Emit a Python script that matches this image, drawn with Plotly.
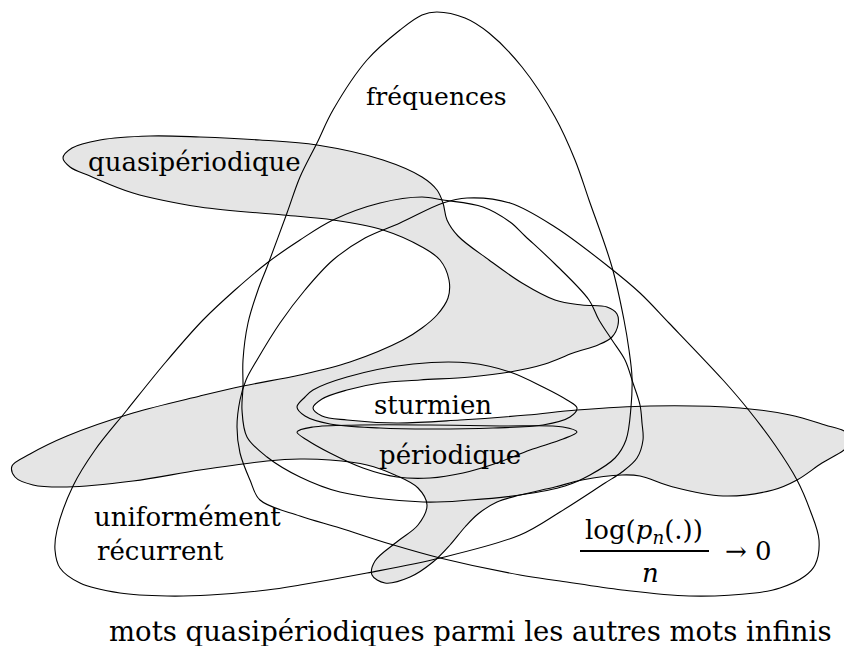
import plotly.graph_objects as go

# ---------------- outline data (pixel units, y grows downward) ----------------
# quasipériodique region (grey)
QP_X = [63, 72, 100, 150, 200, 260, 317, 383, 422, 437, 443, 447, 458, 489, 522, 555, 582, 607, 617, 618,
        612, 598, 573, 545, 510, 470, 420, 380, 347, 322, 313, 322, 347, 397, 460, 527, 577, 650, 740, 790,
        825, 846, 852, 844, 822, 797, 773, 723, 673, 640, 622, 582, 555, 520, 497, 478, 465, 450, 433, 410,
        385, 372, 375, 398, 418, 427, 418, 395, 367, 330, 300, 267, 200, 133, 67, 33, 15, 12, 30, 67,
        133, 200, 243, 300, 350, 403, 422, 437, 448, 449, 440, 422, 383, 333, 283, 200, 133, 90, 70, 63]
QP_Y = [158, 148, 140, 136, 137, 140, 145, 160, 177, 190, 203, 220, 236, 260, 283, 300, 305, 307, 314, 325,
        337, 345, 353, 364, 372, 377, 380, 383, 390, 399, 408, 416, 420, 423, 420, 415, 410, 406, 408, 415,
        425, 432, 441, 450, 463, 480, 490, 496, 487, 476, 475, 480, 487, 495, 502, 514, 527, 545, 562, 577,
        583, 575, 561, 541, 525, 505, 488, 475, 465, 460, 459, 461, 470, 481, 487, 485, 477, 466, 454, 436,
        413, 396, 386, 375, 362, 340, 328, 315, 298, 280, 260, 247, 230, 220, 215, 207, 193, 176, 167, 158]

# fréquences
FR_X = [437, 465, 489, 522, 555, 575, 589, 612, 624, 629, 632, 631, 626, 615, 590, 565, 520, 470, 423, 340,
        300, 267, 247, 242, 243, 243, 248, 258, 267, 287, 300, 317, 333, 367, 400, 422, 437]
FR_Y = [12, 18, 33, 67, 117, 160, 200, 267, 320, 350, 377, 407, 440, 458, 475, 486, 495, 500, 502, 492,
        477, 457, 437, 410, 387, 360, 323, 290, 267, 213, 177, 143, 110, 60, 30, 15, 12]

# uniformément récurrent
UR_X = [422, 443, 483, 510, 525, 555, 589, 599, 612, 625, 633, 640, 642, 643, 637, 622, 605, 560, 520, 440,
        367, 300, 267, 210, 167, 120, 80, 60, 55, 57, 73, 95, 127, 165, 203, 235, 267, 300, 333, 380, 422]
UR_Y = [197, 200, 207, 222, 236, 264, 300, 320, 340, 360, 383, 405, 423, 440, 458, 472, 483, 512, 535, 558,
        573, 585, 590, 595, 596, 593, 583, 568, 550, 530, 486, 450, 410, 363, 320, 290, 263, 240, 220, 203, 197]

# log(p_n(.))/n -> 0
LG_X = [467, 510, 555, 609, 640, 669, 723, 747, 775, 797, 810, 819, 815, 805, 780, 755, 689, 622, 560, 520,
        440, 390, 340, 300, 260, 250, 240, 237, 240, 246, 257, 280, 305, 333, 365, 400, 443, 467]
LG_Y = [198, 203, 227, 267, 293, 323, 380, 408, 445, 480, 510, 540, 565, 576, 588, 593, 596, 590, 581, 575,
        558, 544, 528, 516, 500, 480, 453, 427, 400, 380, 360, 323, 290, 260, 238, 223, 203, 198]

# sturmien
ST_X = [297, 305, 313, 347, 413, 470, 510, 543, 567, 577, 570, 543, 493, 430, 380, 330, 305, 297]
ST_Y = [407, 397, 390, 377, 364, 363, 372, 387, 400, 408, 417, 425, 428, 429, 428, 424, 416, 407]

# périodique
PE_X = [297, 313, 360, 430, 500, 563, 577, 563, 530, 497, 463, 430, 397, 363, 330, 307, 297]
PE_Y = [432, 427, 425, 425, 426, 427, 432, 439, 450, 463, 473, 478, 477, 468, 453, 440, 432]

# labels
LABELS = ["fréquences", "quasipériodique", "sturmien", "périodique", "uniformément", "récurrent"]
LABEL_X = [436, 194, 433, 450, 187, 160]
LABEL_Y = [96, 162, 405, 455, 517, 551]
CAPTION = "mots quasipériodiques parmi les autres mots infinis"

FONT = "DejaVu Serif"
LINE = dict(color="black", width=1.1, shape="spline", smoothing=1, simplify=False)

fig = go.Figure()
fig.add_trace(go.Scatter(x=QP_X, y=QP_Y, mode="lines", fill="toself", fillcolor="#e5e5e5",
                         line=LINE, hoverinfo="skip", showlegend=False))
for xs, ys in [(FR_X, FR_Y), (UR_X, UR_Y), (LG_X, LG_Y), (ST_X, ST_Y), (PE_X, PE_Y)]:
    fig.add_trace(go.Scatter(x=xs, y=ys, mode="lines", line=LINE, hoverinfo="skip", showlegend=False))

ann = []
sizes = [25, 26, 26, 26, 26, 26]
for t, x, y, s in zip(LABELS, LABEL_X, LABEL_Y, sizes):
    ann.append(dict(text=t, x=x, y=y, xref="x", yref="y", showarrow=False,
                    font=dict(family=FONT, size=s, color="black")))
# formula
ann.append(dict(text="log(<i>p</i><sub><i>n</i></sub>(.))", x=644, y=531, xref="x", yref="y", showarrow=False,
                font=dict(family=FONT, size=26, color="black")))
ann.append(dict(text="<i>n</i>", x=650, y=573, xref="x", yref="y", showarrow=False,
                font=dict(family=FONT, size=26, color="black")))
ann.append(dict(text="→ 0", x=748, y=551, xref="x", yref="y", showarrow=False,
                font=dict(family=FONT, size=26, color="black")))
ann.append(dict(text=CAPTION, x=470, y=631, xref="x", yref="y", showarrow=False,
                font=dict(family=FONT, size=27.5, color="black")))

fig.update_layout(
    width=844, height=646, margin=dict(l=0, r=0, t=0, b=0),
    paper_bgcolor="white", plot_bgcolor="white",
    xaxis=dict(range=[0, 844], visible=False, fixedrange=True),
    yaxis=dict(range=[646, 0], visible=False, fixedrange=True),
    annotations=ann,
    shapes=[dict(type="line", xref="x", yref="y", x0=580, x1=709, y0=551, y1=551,
                 line=dict(color="black", width=2))],
)
fig.write_html("out.html", config={"displayModeBar": False},
               post_script="document.body.style.margin='0px';")
